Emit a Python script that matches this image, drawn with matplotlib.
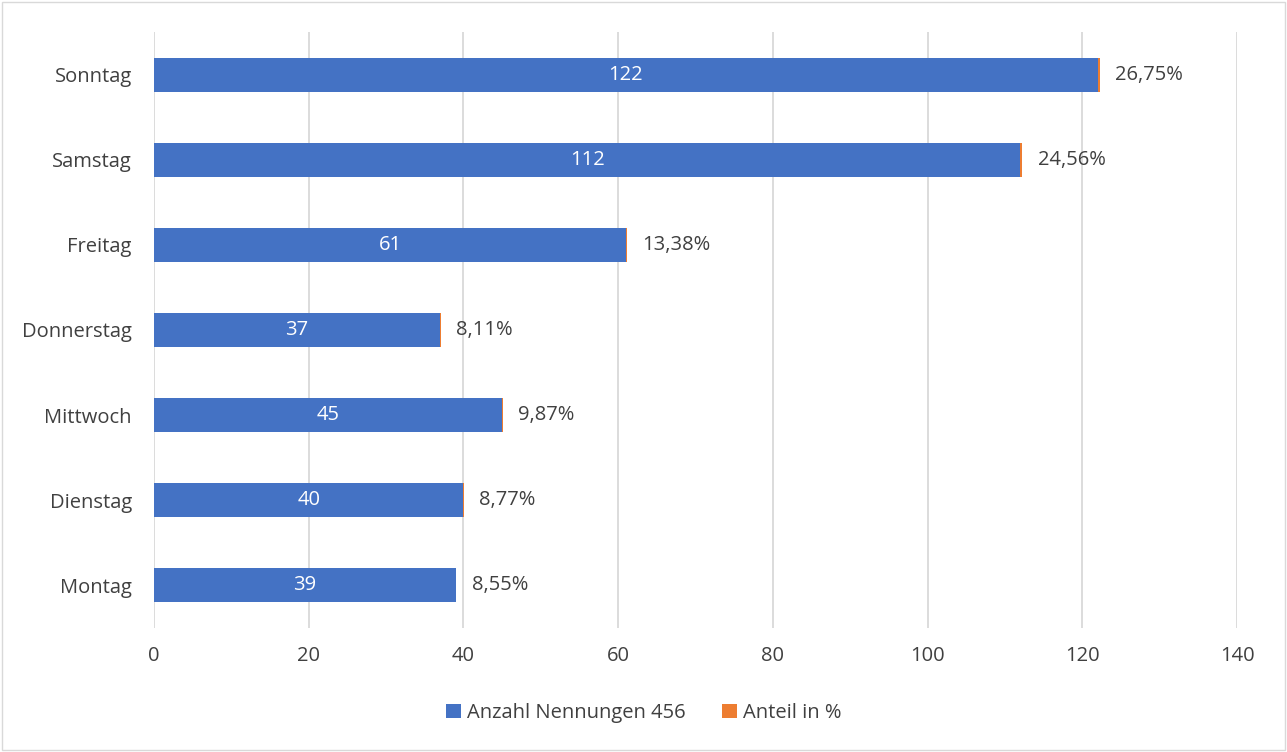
import matplotlib
matplotlib.use("Agg")
import matplotlib.pyplot as plt
from matplotlib.patches import Rectangle

days = ["Montag", "Dienstag", "Mittwoch", "Donnerstag", "Freitag", "Samstag", "Sonntag"]
counts = [39, 40, 45, 37, 61, 112, 122]
shares = [8.55, 8.77, 9.87, 8.11, 13.38, 24.56, 26.75]
xticks = [0, 20, 40, 60, 80, 100, 120, 140]

blue = "#4472C4"
orange = "#ED7D31"
txt = "#404040"
plt.rcParams['font.family'] = ['Open Sans', 'DejaVu Sans']
fs = 14.5

fig = plt.figure(figsize=(12.87, 7.52), dpi=100)
ax = fig.add_axes([154/1287, 1-628/752, (1237-154)/1287, (628-32)/752])

y = list(range(len(days)))
share_frac = [s/100 for s in shares]
b1 = ax.barh(y, counts, height=0.4, color=blue, label="Anzahl Nennungen 456", zorder=3)
b2 = ax.barh(y, share_frac, left=counts, height=0.4, color=orange, label="Anteil in %", zorder=3)

for yi, c, s, f in zip(y, counts, shares, share_frac):
    ax.text(c/2, yi, str(c), ha="center", va="center", color="white", fontsize=fs, zorder=4)
    ax.annotate(f"{s:.2f}%".replace(".", ","), (c+f, yi), xytext=(11, 0), textcoords="offset points",
                ha="left", va="center", color=txt, fontsize=fs)

ax.set_xlim(0, 140)
ax.set_ylim(-0.5, 6.5)
ax.set_xticks(xticks)
ax.set_yticks(y)
ax.set_yticklabels(days)
ax.tick_params(axis="both", length=0, labelsize=fs, colors=txt)
ax.tick_params(axis="x", pad=13)
ax.tick_params(axis="y", pad=16)
ax.grid(axis="x", color="#D9D9D9", linewidth=1.3, zorder=0)
for sp in ax.spines.values():
    sp.set_visible(False)

fig.legend(handles=[b1, b2], loc="center", bbox_to_anchor=(0.5, 1-713/752), ncol=2, frameon=False,
           fontsize=fs, labelcolor=txt, handlelength=0.75, handleheight=0.75, handletextpad=0.3,
           columnspacing=1.8)

fig.patches.append(Rectangle((0.0015, 0.002), 0.997, 0.996, transform=fig.transFigure,
                             fill=False, edgecolor="#D9D9D9", linewidth=1))
fig.savefig("out.png", dpi=100, facecolor="white")
